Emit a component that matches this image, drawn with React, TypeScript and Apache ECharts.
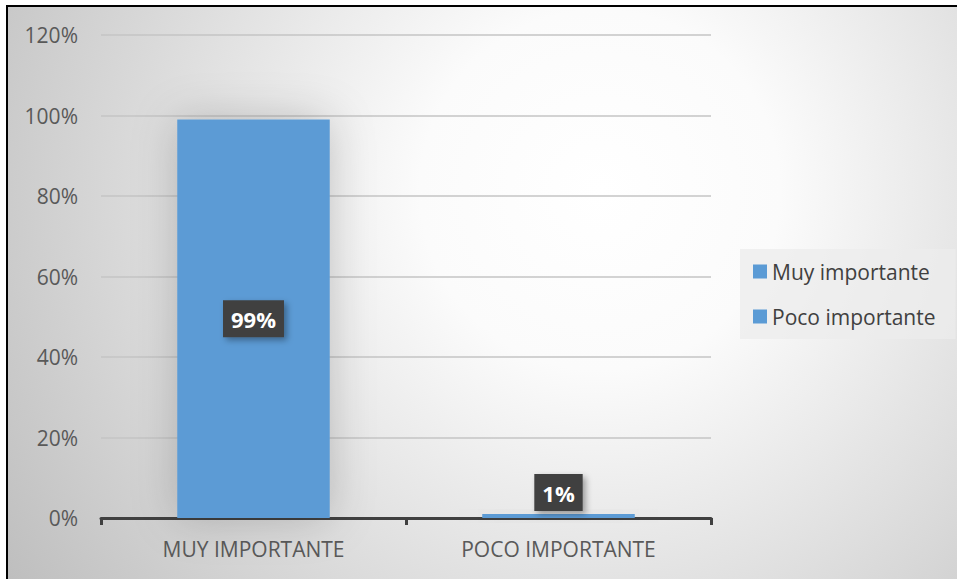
import React, { useEffect, useRef } from "react";
import * as echarts from "echarts";

const categories = ["MUY IMPORTANTE", "POCO IMPORTANTE"];
const seriesNames = ["Muy importante", "Poco importante"];
const muyValues: (number | string)[] = [99, "-"];
const pocoValues: (number | string)[] = ["-", 1];
const yTicks = { min: 0, max: 120, interval: 20 };

const FONT = "'Open Sans', 'Liberation Sans', sans-serif";
const BLUE = "#5b9bd5";

export default function App() {
  const ref = useRef<HTMLDivElement>(null);
  useEffect(() => {
    document.body.style.margin = "0";
    if (!ref.current) return;
    const chart = echarts.init(ref.current, undefined, { renderer: "svg" });
    const labelBase = {
      show: true,
      formatter: "{c}%",
      color: "#ffffff",
      fontFamily: FONT,
      fontWeight: "bold" as const,
      fontSize: 22,
      backgroundColor: "#404040",
      padding: [8, 8, 7, 8],
      shadowColor: "rgba(0,0,0,0.35)",
      shadowBlur: 6,
      shadowOffsetX: 3,
      shadowOffsetY: 3,
    };
    const itemStyle = {
      color: BLUE,
      shadowColor: "rgba(0,0,0,0.2)",
      shadowBlur: 45,
    };
    chart.setOption({
      animation: false,
      graphic: [
        {
          type: "rect",
          z: -10,
          silent: true,
          shape: { x: 7, y: 6, width: 1000, height: 1000 },
          style: {
            fill: new echarts.graphic.RadialGradient(
              600,
              190,
              720,
              [
                { offset: 0, color: "#ffffff" },
                { offset: 0.25, color: "#fbfbfb" },
                { offset: 1, color: "#bdbdbd" },
              ],
              true
            ),
            stroke: "#000000",
            lineWidth: 2,
          },
        },
      ],
      grid: { left: 101, right: 246, top: 35, bottom: 61 },
      legend: {
        orient: "vertical",
        left: 740,
        top: 249,
        padding: [12, 20, 12, 13],
        itemWidth: 14,
        itemHeight: 14,
        itemGap: 24,
        backgroundColor: "rgba(236,236,236,0.75)",
        icon: "rect",
        data: seriesNames,
        textStyle: { fontFamily: FONT, fontSize: 21, color: "#404040" },
      },
      xAxis: {
        type: "category",
        data: categories,
        axisLine: { lineStyle: { color: "#404040", width: 3 } },
        axisTick: { show: true, length: 7, lineStyle: { color: "#404040", width: 3 } },
        axisLabel: { fontFamily: FONT, fontSize: 21, color: "#595959", margin: 20 },
      },
      yAxis: {
        type: "value",
        min: yTicks.min,
        max: yTicks.max,
        interval: yTicks.interval,
        axisLine: { show: false },
        axisTick: { show: false },
        axisLabel: {
          formatter: "{value}%",
          fontFamily: FONT,
          fontSize: 21,
          color: "#595959",
          margin: 23,
        },
        splitLine: { lineStyle: { color: "#c4c4c4", width: 1.5 } },
      },
      series: [
        {
          name: seriesNames[0],
          type: "bar",
          stack: "all",
          barWidth: "50%",
          data: muyValues,
          itemStyle,
          label: { ...labelBase, position: "inside" },
        },
        {
          name: seriesNames[1],
          type: "bar",
          stack: "all",
          barWidth: "50%",
          data: pocoValues,
          itemStyle,
          label: { ...labelBase, position: "top", distance: 3 },
        },
      ],
    });
    return () => chart.dispose();
  }, []);
  return <div ref={ref} style={{ width: 957, height: 579 }} />;
}
